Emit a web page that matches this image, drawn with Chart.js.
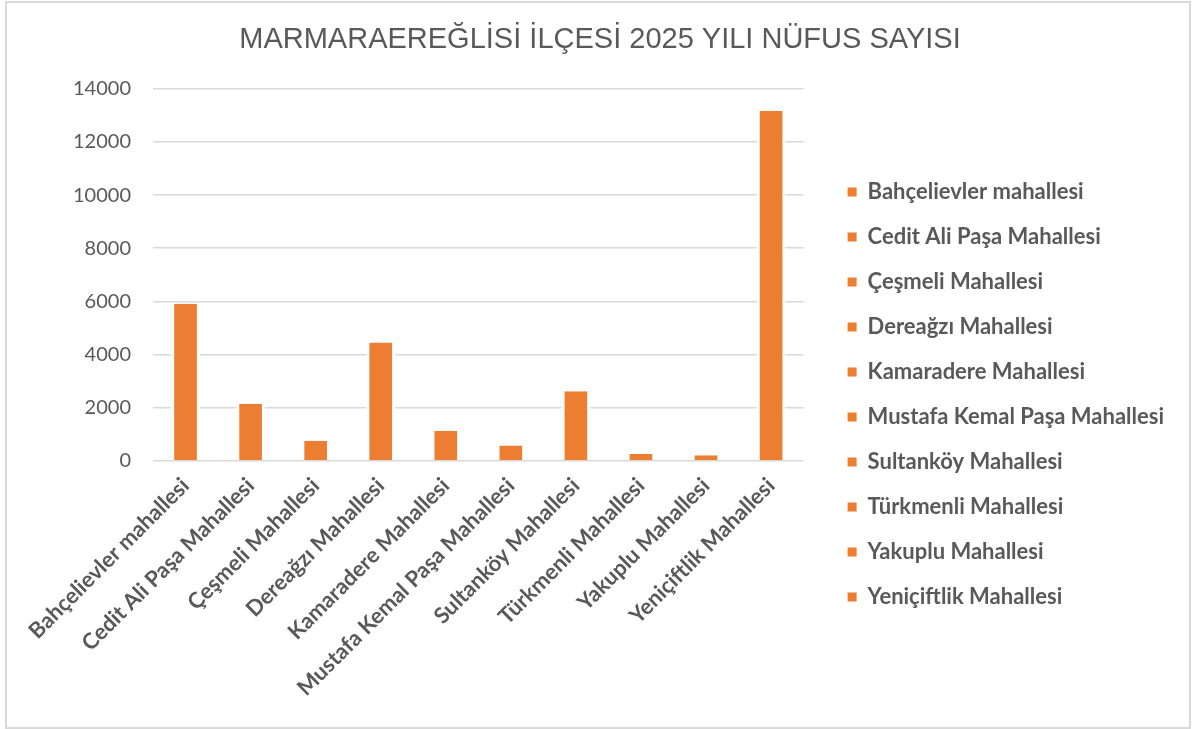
<!DOCTYPE html>
<html lang="tr">
<head>
<meta charset="utf-8">
<title>Marmaraereğlisi nüfus</title>
<script src="https://cdn.jsdelivr.net/npm/chart.js@4.4.1/dist/chart.umd.min.js"></script>
<style>
    html, body { margin: 0; padding: 0; background: #fff; }
    #wrap { position: relative; width: 1194px; height: 729px; }
    #frame { position: absolute; left: 5px; top: 1px; width: 1182px; height: 724px; border: 2px solid #d9d9d9; pointer-events: none; }
    canvas { position: absolute; left: 0; top: 0; }
</style>
</head>
<body>
<div id="wrap">
    <canvas id="myChart" width="1194" height="729"></canvas>
    <div id="frame"></div>
</div>
<script>
// --- données ---
const mahalleler = [
    'Bahçelievler mahallesi',
    'Cedit Ali Paşa Mahallesi',
    'Çeşmeli Mahallesi',
    'Dereağzı Mahallesi',
    'Kamaradere Mahallesi',
    'Mustafa Kemal Paşa Mahallesi',
    'Sultanköy Mahallesi',
    'Türkmenli Mahallesi',
    'Yakuplu Mahallesi',
    'Yeniçiftlik Mahallesi'
];
const nufus = [5910, 2150, 755, 4450, 1130, 570, 2620, 250, 210, 13160];
const yTicks = [0, 2000, 4000, 6000, 8000, 10000, 12000, 14000];

const ORANGE = '#ed7d31';
const GREY = '#595959';

document.addEventListener('DOMContentLoaded', () => {
    const ctx = document.getElementById('myChart');

    new Chart(ctx, {
        type: 'bar',
        data: {
            labels: mahalleler,
            datasets: [{
                label: 'Nüfus',
                data: nufus,
                backgroundColor: ORANGE,
                borderColor: '#ffffff',
                borderWidth: { left: 3, right: 3, top: 0, bottom: 0 },
                borderSkipped: false,
                categoryPercentage: 1,
                barPercentage: 0.44
            }]
        },
        options: {
            responsive: false,
            animation: false,
            layout: { padding: { left: 26, right: 20, top: 0, bottom: 24 } },
            plugins: {
                title: {
                    display: true,
                    text: 'MARMARAEREĞLİSİ İLÇESİ 2025 YILI NÜFUS SAYISI',
                    color: GREY,
                    font: { family: '"Liberation Sans", Arial, sans-serif', size: 29, weight: 'normal' },
                    padding: { top: 23, bottom: 31 }
                },
                legend: {
                    position: 'right',
                    maxWidth: 420,
                    onClick: null,
                    // titre vide : sert juste à descendre la colonne
                    title: { display: true, text: ' ', font: { size: 10 }, padding: { top: 72, bottom: 0 } },
                    labels: {
                        color: GREY,
                        font: { family: 'Lato, sans-serif', size: 22, weight: 'bold' },
                        boxWidth: 9,
                        boxHeight: 9,
                        padding: 23,
                        generateLabels: () => mahalleler.map((m, i) => ({
                            text: m,
                            fillStyle: ORANGE,
                            strokeStyle: ORANGE,
                            lineWidth: 0,
                            hidden: false,
                            index: i,
                            datasetIndex: 0,
                            fontColor: GREY
                        }))
                    }
                },
                tooltip: { enabled: false }
            },
            scales: {
                x: {
                    grid: { display: false },
                    border: { display: false },
                    ticks: {
                        color: GREY,
                        font: { family: 'Lato, sans-serif', size: 22, weight: 'bold' },
                        maxRotation: 45,
                        minRotation: 45,
                        autoSkip: false,
                        padding: 4
                    }
                },
                y: {
                    min: 0,
                    max: 14000,
                    afterBuildTicks: (axis) => { axis.ticks = yTicks.map(v => ({ value: v })); },
                    grid: { color: '#d9d9d9', lineWidth: 1.5, drawTicks: false },
                    border: { display: false },
                    ticks: {
                        color: GREY,
                        font: { family: 'Lato, sans-serif', size: 20 },
                        padding: 22,
                        callback: (v) => String(v)
                    },
                    // largeur fixe pour garder le bord gauche du graphique
                    afterFit: (axis) => { axis.width = 127; }
                },
                // axe vide à droite : espace entre le graphique et la légende
                gap: {
                    type: 'linear',
                    position: 'right',
                    grid: { display: false },
                    border: { display: false },
                    ticks: { display: false },
                    afterFit: (axis) => { axis.width = 21; }
                }
            }
        }
    });
});
</script>
</body>
</html>
